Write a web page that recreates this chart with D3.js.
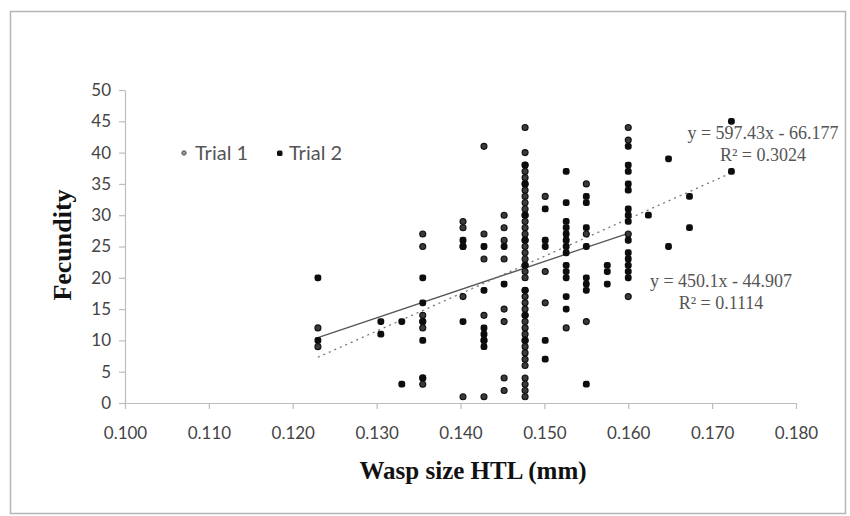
<!DOCTYPE html>
<html><head><meta charset="utf-8">
<script src="https://cdn.jsdelivr.net/npm/d3@7"></script>
<style>body{margin:0;background:#fff}svg{display:block}</style>
</head><body>
<svg id="c" width="850" height="516"></svg>
<script>
// ---- data ----
const xTicks = [0.100,0.110,0.120,0.130,0.140,0.150,0.160,0.170,0.180];
const yTicks = [0,5,10,15,20,25,30,35,40,45,50];
const seriesNames = ["Trial 1","Trial 2"];
// Trial 1 points: [HTL, fecundity]
const trial1 = [
 [0.1230,12],[0.1230,9],
 [0.1355,27],[0.1355,25],[0.1355,14],[0.1355,13],[0.1355,12],[0.1355,4],[0.1355,3],
 [0.1403,29],[0.1403,28],[0.1403,17],[0.1403,1],
 [0.1428,41],[0.1428,27],[0.1428,23],[0.1428,14],[0.1428,1],
 [0.1452,30],[0.1452,28],[0.1452,26],[0.1452,23],[0.1452,15],[0.1452,13],[0.1452,4],[0.1452,2],
 [0.1477,44],[0.1477,40],[0.1477,38],[0.1477,37],[0.1477,36],[0.1477,35],[0.1477,34],[0.1477,33],
 [0.1477,32],[0.1477,31],[0.1477,30],[0.1477,29],[0.1477,28],[0.1477,27],[0.1477,26],[0.1477,25],
 [0.1477,24],[0.1477,23],[0.1477,22],[0.1477,21],[0.1477,20],[0.1477,18],[0.1477,17],[0.1477,16],
 [0.1477,15],[0.1477,14],[0.1477,13],[0.1477,12],[0.1477,11],[0.1477,10],[0.1477,9],[0.1477,8],
 [0.1477,7],[0.1477,6],[0.1477,4],[0.1477,3],[0.1477,2],[0.1477,1],
 [0.1501,33],[0.1501,21],[0.1501,16],
 [0.1526,12],
 [0.1550,35],[0.1550,27],[0.1550,13],
 [0.1600,44],[0.1600,42],[0.1600,27],[0.1600,17]
];
// Trial 2 points: [HTL, fecundity]
const trial2 = [
 [0.1230,20],[0.1230,10],
 [0.1305,13],[0.1305,11],
 [0.1330,13],[0.1330,3],
 [0.1355,20],[0.1355,16],[0.1355,13],[0.1355,10],[0.1355,4],
 [0.1403,26],[0.1403,25],[0.1403,25],[0.1403,13],
 [0.1428,25],[0.1428,18],[0.1428,12],[0.1428,11],[0.1428,10],[0.1428,10],[0.1428,9],
 [0.1452,25],[0.1452,19],
 [0.1477,38],[0.1477,35],[0.1477,30],[0.1477,26],[0.1477,22],[0.1477,18],[0.1477,14],[0.1477,10],
 [0.1501,31],[0.1501,26],[0.1501,25],[0.1501,10],[0.1501,7],
 [0.1526,37],[0.1526,32],[0.1526,29],[0.1526,28],[0.1526,27],[0.1526,26],[0.1526,25],[0.1526,24],
 [0.1526,22],[0.1526,21],[0.1526,20],[0.1526,17],[0.1526,15],
 [0.1550,33],[0.1550,32],[0.1550,28],[0.1550,25],[0.1550,20],[0.1550,19],[0.1550,18],[0.1550,3],
 [0.1575,22],[0.1575,21],[0.1575,19],
 [0.1600,41],[0.1600,38],[0.1600,37],[0.1600,35],[0.1600,34],[0.1600,31],[0.1600,30],[0.1600,29],
 [0.1600,26],[0.1600,24],[0.1600,23],[0.1600,22],[0.1600,21],[0.1600,20],
 [0.1624,30],
 [0.1648,39],[0.1648,25],
 [0.1673,33],[0.1673,28],
 [0.1723,45],[0.1723,37]
];
// trendlines: slope, intercept, R²
const trend1 = {slope:450.1, intercept:-44.907, label:"y = 450.1x - 44.907", r2:"R² = 0.1114"};
const trend2 = {slope:597.43, intercept:-66.177, label:"y = 597.43x - 66.177", r2:"R² = 0.3024"};

// ---- drawing ----
const svg = d3.select("#c");
svg.append("rect").attr("x",10.5).attr("y",11.5).attr("width",835).attr("height",502)
  .attr("fill","#fff").attr("stroke","#b5b5b5").attr("stroke-width",1.5);

const x = d3.scaleLinear().domain([0.100,0.180]).range([125,796]);
const y = d3.scaleLinear().domain([0,50]).range([403,90]);

const gx = svg.append("g").attr("transform","translate(0,403)")
  .call(d3.axisBottom(x).tickValues(xTicks).tickFormat(d3.format(".3f")).tickSizeInner(6).tickSizeOuter(0).tickPadding(18));
const gy = svg.append("g").attr("transform","translate(125,0)")
  .call(d3.axisLeft(y).tickValues(yTicks).tickFormat(d3.format("d")).tickSizeInner(6).tickSizeOuter(0).tickPadding(8));
[gx,gy].forEach(g=>{
  g.selectAll("path,line").attr("stroke","#bdbdbd").attr("stroke-width",1.2);
  g.selectAll("text").attr("font-family","Lato, 'Open Sans', sans-serif").attr("font-size",17).attr("fill","#444");
});

// trendlines
function trendLine(t, x0, x1, dash, color){
  svg.append("line").attr("x1",x(x0)).attr("y1",y(t.slope*x0+t.intercept))
    .attr("x2",x(x1)).attr("y2",y(t.slope*x1+t.intercept))
    .attr("stroke",color).attr("stroke-width",1.3).attr("stroke-dasharray",dash);
}
trendLine(trend1, d3.min(trial1,d=>d[0]), d3.max(trial1,d=>d[0]), null, "#555");
trendLine(trend2, d3.min(trial2,d=>d[0]), d3.max(trial2,d=>d[0]), "2,4", "#777");

// points
svg.append("g").selectAll("circle").data(trial1).join("circle")
  .attr("cx",d=>x(d[0])).attr("cy",d=>y(d[1])).attr("r",3)
  .attr("fill","#3a3a3a").attr("stroke","#111").attr("stroke-width",1.1);
svg.append("g").selectAll("rect").data(trial2).join("rect")
  .attr("x",d=>x(d[0])-3.4).attr("y",d=>y(d[1])-3.4).attr("width",6.8).attr("height",6.8).attr("rx",2.4)
  .attr("fill","#0d0d0d");

// equation labels
const eqFont = "'Liberation Serif','Times New Roman',serif";
function eqText(t, cx, cy1, cy2){
  svg.append("text").attr("x",cx).attr("y",cy1).attr("text-anchor","middle")
    .attr("font-family",eqFont).attr("font-size",18).attr("fill","#555").text(t.label);
  svg.append("text").attr("x",cx).attr("y",cy2).attr("text-anchor","middle")
    .attr("font-family",eqFont).attr("font-size",18).attr("fill","#555").text(t.r2);
}
eqText(trend2, 763, 139, 161);
eqText(trend1, 721, 287, 309);

// legend
const lg = svg.append("g");
const lf = "Lato, 'Open Sans', sans-serif";
lg.append("circle").attr("cx",184).attr("cy",153).attr("r",2.2).attr("fill","#999").attr("stroke","#555").attr("stroke-width",1);
lg.append("text").attr("x",195).attr("y",160).attr("font-family",lf).attr("font-size",20).attr("fill","#555").text(seriesNames[0]);
lg.append("rect").attr("x",277).attr("y",150.5).attr("width",5.5).attr("height",5.5).attr("rx",1.5).attr("fill","#111");
lg.append("text").attr("x",289).attr("y",160).attr("font-family",lf).attr("font-size",20).attr("fill","#555").text(seriesNames[1]);

// axis titles
svg.append("text").attr("x",473).attr("y",479).attr("text-anchor","middle")
  .attr("font-family",eqFont).attr("font-weight","bold").attr("font-size",25).attr("fill","#111")
  .text("Wasp size HTL (mm)");
svg.append("text").attr("transform","translate(71,245) rotate(-90)").attr("text-anchor","middle")
  .attr("font-family",eqFont).attr("font-weight","bold").attr("font-size",26).attr("fill","#111")
  .text("Fecundity");
</script>
</body></html>
